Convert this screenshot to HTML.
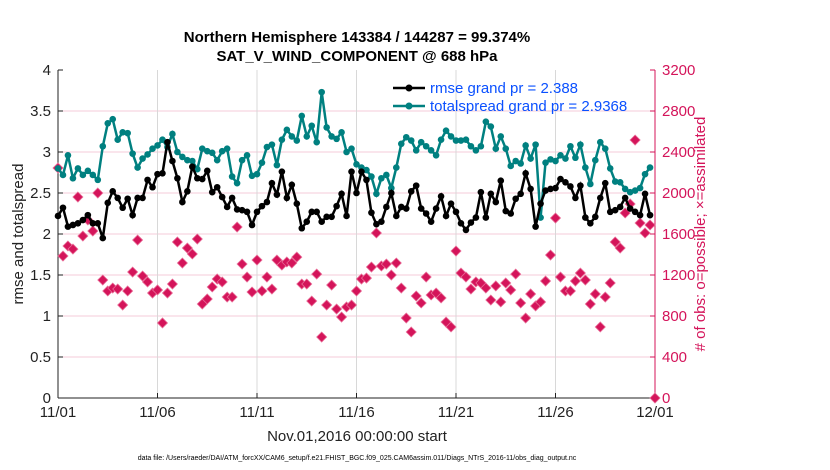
<!DOCTYPE html>
<html><head><meta charset="utf-8"><style>
body{margin:0;background:#fff;}
svg{display:block;font-family:"Liberation Sans",sans-serif;}
</style></head><body>
<svg id="chart" width="830" height="470"></svg>
<script>
const xTickLabels=["11/01","11/06","11/11","11/16","11/21","11/26","12/01"];
const yLeftTicks=["0","0.5","1","1.5","2","2.5","3","3.5","4"];
const yRightTicks=["0","400","800","1200","1600","2000","2400","2800","3200"];
const rmse=[2.22,2.32,2.09,2.11,2.13,2.17,2.23,2.13,2.13,1.95,2.38,2.52,2.44,2.32,2.43,2.23,2.44,2.44,2.66,2.57,2.73,2.74,3.12,2.89,2.68,2.39,2.52,2.82,2.68,2.67,2.77,2.51,2.57,2.45,2.33,2.44,2.30,2.29,2.27,2.11,2.27,2.34,
2.39,2.62,2.48,2.76,2.44,2.60,2.37,2.07,2.15,2.27,2.27,2.15,2.21,2.21,2.34,2.49,2.22,2.76,2.50,2.76,2.66,2.26,2.12,2.15,2.33,2.50,2.22,2.33,2.31,2.52,2.59,2.31,2.25,2.15,2.31,2.46,2.22,2.37,2.27,2.13,
2.05,2.14,2.20,2.51,2.20,2.49,2.39,2.65,2.28,2.25,2.43,2.49,2.74,2.55,2.09,2.37,2.53,2.55,2.56,2.67,2.63,2.58,2.44,2.59,2.20,2.13,2.21,2.44,2.62,2.27,2.29,2.33,2.44,2.31,2.27,2.23,2.49,2.23,null];
const spread=[2.80,2.72,2.96,2.68,2.80,2.72,2.77,2.72,2.66,3.07,3.35,3.40,3.15,3.24,3.23,2.98,2.81,2.92,2.97,3.04,3.08,3.15,3.06,3.22,3.00,2.94,2.90,2.89,2.79,3.04,3.01,2.99,2.90,3.01,3.04,2.70,2.62,2.90,2.96,2.71,2.73,2.87,
3.06,3.09,2.84,3.15,3.27,3.19,3.14,3.44,3.19,3.32,3.12,3.73,3.30,3.19,3.16,3.24,3.00,3.04,2.85,2.81,2.78,2.70,2.49,2.68,2.72,2.56,2.81,3.10,3.18,3.14,3.02,3.12,3.07,3.02,2.96,3.15,3.26,3.19,3.14,3.14,
3.15,3.07,3.02,3.07,3.37,3.31,3.04,3.19,3.04,2.83,2.89,2.86,3.08,2.92,3.09,2.20,2.87,2.91,2.89,2.96,2.92,3.07,2.93,3.09,2.81,2.61,2.90,3.12,3.04,2.80,2.64,2.63,2.55,2.51,2.53,2.56,2.73,2.81,null];
const obsCount=[2244,1385,1483,1453,1961,1580,1737,1629,2000,1151,1044,1073,1063,907,1044,1229,1541,1190,1132,1024,1054,732,1024,1112,1522,1317,1463,1405,1551,917,966,1083,1161,1132,985,985,1668,1307,1180,1034,1346,1044,
1180,1063,1346,1297,1327,1317,1375,1112,1112,946,1209,595,907,1102,868,790,888,907,1044,1161,1170,1278,1610,1288,1307,1200,1317,1073,780,644,995,927,1180,1005,1024,976,741,693,1434,1219,
1180,1063,1132,1122,1073,956,1093,937,1122,1054,1209,927,780,1015,898,937,1141,1395,1756,1180,1044,1044,1141,1219,1151,917,1015,693,985,1122,1522,1463,1805,1893,2517,1707,1610,1688,0];

const svg=document.getElementById('chart');
const NS='http://www.w3.org/2000/svg';
const X0=58,X1=655,Y0=398,Y1=70,DAYS=30;
const xs=i=>X0+(i/4)*(X1-X0)/DAYS;
const yL=v=>Y0-v/4*(Y0-Y1);
const yR=v=>Y0-v/3200*(Y0-Y1);
function mk(tag,attrs,parent){const e=document.createElementNS(NS,tag);for(const k in attrs)e.setAttribute(k,attrs[k]);(parent||svg).appendChild(e);return e;}
function txt(s,attrs,parent){const e=mk('text',attrs,parent);e.textContent=s;return e;}

// grid
const grid=mk('g',{});


yRightTicks.forEach((t,i)=>{const y=yR(+t);if(i>0&&i<8)mk('line',{x1:X0,x2:X1,y1:y,y2:y,stroke:'#f6cbd9','stroke-width':1},grid);});
xTickLabels.forEach((t,i)=>{const x=X0+i*5*(X1-X0)/DAYS;if(i>0&&i<6)mk('line',{x1:x,x2:x,y1:Y1,y2:Y0,stroke:'#d8d8d8','stroke-width':1},grid);});

// axes
const axes=mk('g',{});


mk('line',{x1:X0,x2:X0,y1:Y1,y2:Y0,stroke:'#222','stroke-width':1},axes);
mk('line',{x1:X0,x2:X1,y1:Y0,y2:Y0,stroke:'#222','stroke-width':1},axes);
mk('line',{x1:X1,x2:X1,y1:Y1,y2:Y0,stroke:'#d4145a','stroke-width':1},axes);
yLeftTicks.forEach(t=>{const y=yL(+t);mk('line',{x1:X0,x2:X0+5,y1:y,y2:y,stroke:'#222'},axes);
 const e=txt(t,{x:X0-7,y:y+5,'text-anchor':'end','font-size':15,fill:'#222'},axes);
 
 });
yRightTicks.forEach(t=>{const y=yR(+t);mk('line',{x1:X1-5,x2:X1,y1:y,y2:y,stroke:'#d4145a'},axes);
 const e=txt(t,{x:X1+7,y:y+5,'font-size':15,fill:'#d4145a'},axes);
 
 });
xTickLabels.forEach((t,i)=>{const x=X0+i*5*(X1-X0)/DAYS;mk('line',{x1:x,x2:x,y1:Y0-5,y2:Y0,stroke:'#222'},axes);
 const e=txt(t,{x:x,y:Y0+19,'text-anchor':'middle','font-size':15,fill:'#222'},axes);
 
 });

// obs markers
const og=mk('g',{});


obsCount.forEach((v,i)=>{if(v==null)return;const x=xs(i),y=yR(v);
 const p=mk('path',{d:`M${x} ${y-5}L${x+5} ${y}L${x} ${y+5}L${x-5} ${y}Z`,fill:'#d4145a',stroke:'#e86a95','stroke-width':0.8},og);
 
 });

function series(vals,color,name){
 const g=mk('g',{});
 
 
 let d='';vals.forEach((v,i)=>{if(v==null)return;d+=(d?'L':'M')+xs(i).toFixed(1)+' '+yL(v).toFixed(1);});
 mk('path',{d:d,fill:'none',stroke:color,'stroke-width':2.5},g);
 vals.forEach((v,i)=>{if(v==null)return;const c=mk('circle',{cx:xs(i),cy:yL(v),r:3.3,fill:color},g);
  
  });
}
series(spread,'#008080','totalspread-series');
series(rmse,'#000','rmse-series');

// legend
const lg=mk('g',{});


[['rmse grand pr = 2.388','#000',88],['totalspread grand pr = 2.9368','#008080',106]].forEach(([s,c,y])=>{
 mk('line',{x1:393,x2:425,y1:y,y2:y,stroke:c,'stroke-width':2.5},lg);
 mk('circle',{cx:409,cy:y,r:3.5,fill:c},lg);
 const e=txt(s,{x:430,y:y+5,'font-size':15,fill:'#0a50ff'},lg);
 
 });

// titles
const t1=txt('Northern Hemisphere 143384 / 144287 = 99.374%',{x:357,y:42,'text-anchor':'middle','font-size':15,'font-weight':'bold',fill:'#000'});


const t2=txt('SAT_V_WIND_COMPONENT @ 688 hPa',{x:357,y:61,'text-anchor':'middle','font-size':15,'font-weight':'bold',fill:'#000'});


const yl=txt('rmse and totalspread',{x:0,y:0,'text-anchor':'middle','font-size':15,fill:'#222',transform:'translate(23,234) rotate(-90)'});


const yr=txt('# of obs: o=possible; \u00d7=assimilated',{x:0,y:0,'text-anchor':'middle','font-size':15,fill:'#d4145a',transform:'translate(705,234) rotate(-90)'});


const xl=txt('Nov.01,2016 00:00:00 start',{x:357,y:441,'text-anchor':'middle','font-size':15,fill:'#222'});


const df=txt('data file: /Users/raeder/DAI/ATM_forcXX/CAM6_setup/f.e21.FHIST_BGC.f09_025.CAM6assim.011/Diags_NTrS_2016-11/obs_diag_output.nc',{x:357,y:460,'text-anchor':'middle','font-size':7,fill:'#000'});


</script>
</body></html>
